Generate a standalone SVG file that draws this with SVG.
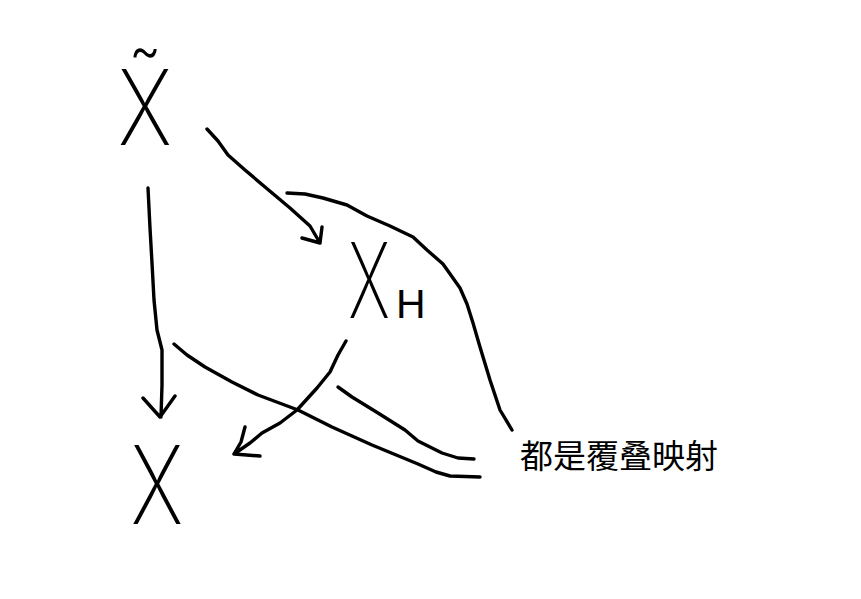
<svg xmlns="http://www.w3.org/2000/svg" width="861" height="599" viewBox="0 0 861 599">
<style>
.s{fill:none;stroke:#000;stroke-width:3.4;stroke-linecap:round;stroke-linejoin:round}
.hx{font-family:Inter,"Liberation Sans",sans-serif;font-weight:250;font-size:105px;fill:#000}
.h{font-family:"Liberation Sans",Arial,sans-serif;font-size:41px;fill:#000}
.lbl{font-family:"Noto Sans CJK SC","Noto Sans CJK JP",sans-serif;font-size:33px;fill:#000}
</style>
<rect width="861" height="599" fill="#fff"/>
<g id="Xtilde"><text class="hx" text-anchor="middle" transform="translate(145,145) scale(0.8,1)">X̃</text></g>
<g id="XH"><text class="hx" text-anchor="middle" transform="translate(369,318) scale(0.62,1)">X</text><text class="h" x="396" y="318">H</text></g>
<g id="X"><text class="hx" text-anchor="middle" transform="translate(157,524) scale(0.78,1.03)">X</text></g>
<g id="label"><text class="lbl" x="520" y="468">都是覆叠映射</text></g>
<g id="connectors">
<path class="s" d="M207,129 L218,141 L228,155 L245,170 L265,187 L290,208 L310,226 L320,243 M322,227 L320,243 L302,238"/>
<path class="s" d="M148,188 L150,228 L152,263 L154,300 L157,330 L162,350 L162,385 L161,417 M143,398 L160,417 L175,396"/>
<path class="s" d="M346,341 L338,355 L330,372 L317,388 L297,410 L280,423 L262,433 L250,443 L234,454 M245,427 L241,442 L234,454 L260,456"/>
<path class="s" d="M287,193 L305,194 L323,198 L347,205 L367,216 L390,226 L413,237 L427,250 L443,264 L460,288 L467,304 L473,323 L480,347 L490,380 L500,410 L512,430"/>
<path class="s" d="M174,344 L187,355 L205,367 L232,382 L258,395 L298,410 L332,427 L372,445 L418,464 L436,472 L450,476 L480,477"/>
<path class="s" d="M338,387 L352,397 L378,413 L405,430 L418,441 L442,453 L458,458 L474,459"/>
</g>
</svg>
